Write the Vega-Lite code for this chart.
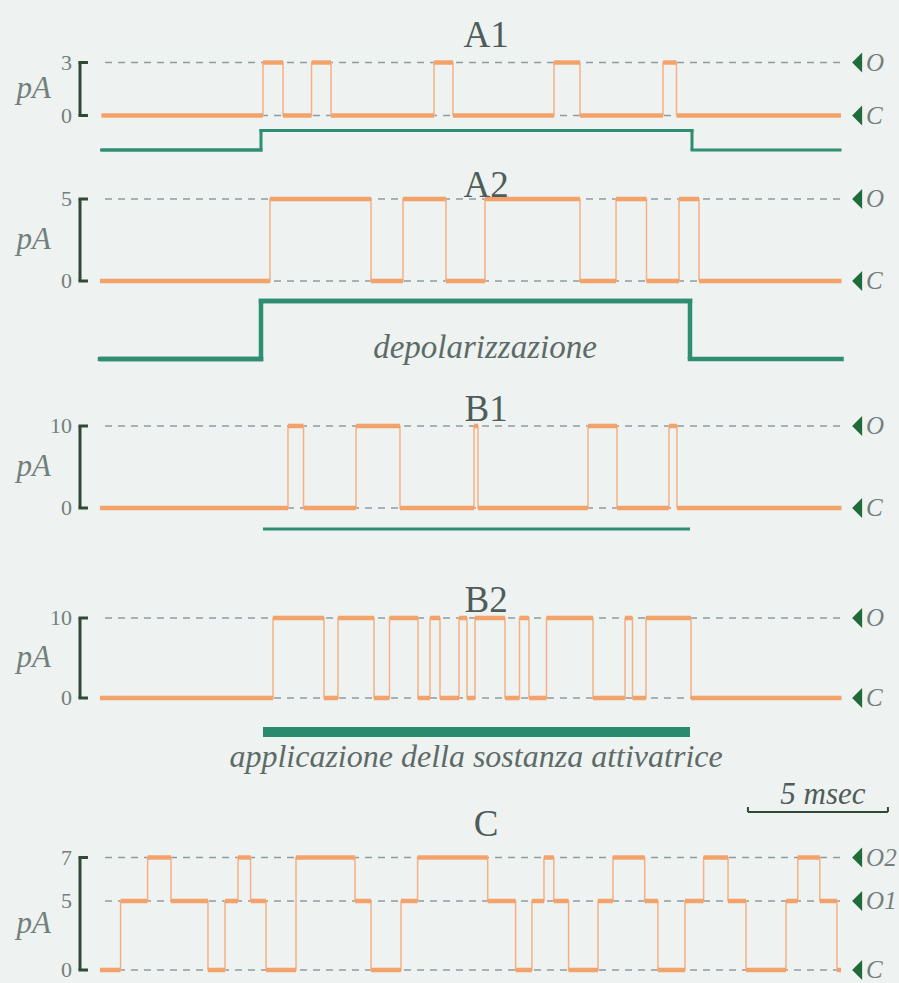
{
"$schema": "https://vega.github.io/schema/vega-lite/v6.json",
"width": 899, "height": 983,
"autosize": {"type": "none"},
"padding": 0,
"background": "#eef2f1",
"config": {"view": {"stroke": null}, "axis": {"disable": true}},
"datasets": {
"panels": [
{"panel": "A1", "title": "A1", "caption": ""},
{"panel": "A2", "title": "A2", "caption": "depolarizzazione"},
{"panel": "B1", "title": "B1", "caption": ""},
{"panel": "B2", "title": "B2", "caption": "applicazione della sostanza attivatrice"},
{"panel": "C", "title": "C", "caption": "5 msec"}
],
"levels": [
{"panel": "A1", "current": 3, "state": "O"}, {"panel": "A1", "current": 0, "state": "C"},
{"panel": "A2", "current": 5, "state": "O"}, {"panel": "A2", "current": 0, "state": "C"},
{"panel": "B1", "current": 10, "state": "O"}, {"panel": "B1", "current": 0, "state": "C"},
{"panel": "B2", "current": 10, "state": "O"}, {"panel": "B2", "current": 0, "state": "C"},
{"panel": "C", "current": 7, "state": "O2"}, {"panel": "C", "current": 5, "state": "O1"}, {"panel": "C", "current": 0, "state": "C"}
],
"stim": [
{"panel": "A1", "start": 0.054, "end": 5.75, "on": 0}, {"panel": "A1", "start": 5.75, "end": 21.143, "on": 1}, {"panel": "A1", "start": 21.143, "end": 26.429, "on": 0},
{"panel": "A2", "start": 0, "end": 5.75, "on": 0}, {"panel": "A2", "start": 5.75, "end": 21.071, "on": 1}, {"panel": "A2", "start": 21.071, "end": 26.482, "on": 0},
{"panel": "B1", "start": 5.821, "end": 21.071, "on": 1},
{"panel": "B2", "start": 5.821, "end": 21.071, "on": 1}
],
"trace": [
{"panel": "A1", "start": 0.054, "end": 5.821, "current": 0},
{"panel": "A1", "start": 5.821, "end": 6.536, "current": 3},
{"panel": "A1", "start": 6.536, "end": 7.554, "current": 0},
{"panel": "A1", "start": 7.554, "end": 8.25, "current": 3},
{"panel": "A1", "start": 8.25, "end": 11.929, "current": 0},
{"panel": "A1", "start": 11.929, "end": 12.607, "current": 3},
{"panel": "A1", "start": 12.607, "end": 16.214, "current": 0},
{"panel": "A1", "start": 16.214, "end": 17.143, "current": 3},
{"panel": "A1", "start": 17.143, "end": 20.107, "current": 0},
{"panel": "A1", "start": 20.107, "end": 20.589, "current": 3},
{"panel": "A1", "start": 20.589, "end": 26.464, "current": 0},
{"panel": "A2", "start": 0, "end": 6.071, "current": 0},
{"panel": "A2", "start": 6.071, "end": 9.679, "current": 5},
{"panel": "A2", "start": 9.679, "end": 10.821, "current": 0},
{"panel": "A2", "start": 10.821, "end": 12.357, "current": 5},
{"panel": "A2", "start": 12.357, "end": 13.75, "current": 0},
{"panel": "A2", "start": 13.75, "end": 17.143, "current": 5},
{"panel": "A2", "start": 17.143, "end": 18.429, "current": 0},
{"panel": "A2", "start": 18.429, "end": 19.518, "current": 5},
{"panel": "A2", "start": 19.518, "end": 20.679, "current": 0},
{"panel": "A2", "start": 20.679, "end": 21.393, "current": 5},
{"panel": "A2", "start": 21.393, "end": 26.482, "current": 0},
{"panel": "B1", "start": 0, "end": 6.714, "current": 0},
{"panel": "B1", "start": 6.714, "end": 7.268, "current": 10},
{"panel": "B1", "start": 7.268, "end": 9.143, "current": 0},
{"panel": "B1", "start": 9.143, "end": 10.714, "current": 10},
{"panel": "B1", "start": 10.714, "end": 13.357, "current": 0},
{"panel": "B1", "start": 13.357, "end": 13.5, "current": 10},
{"panel": "B1", "start": 13.5, "end": 17.429, "current": 0},
{"panel": "B1", "start": 17.429, "end": 18.464, "current": 10},
{"panel": "B1", "start": 18.464, "end": 20.321, "current": 0},
{"panel": "B1", "start": 20.321, "end": 20.607, "current": 10},
{"panel": "B1", "start": 20.607, "end": 26.482, "current": 0},
{"panel": "B2", "start": 0, "end": 6.179, "current": 0},
{"panel": "B2", "start": 6.179, "end": 8.0, "current": 10},
{"panel": "B2", "start": 8.0, "end": 8.5, "current": 0},
{"panel": "B2", "start": 8.5, "end": 9.786, "current": 10},
{"panel": "B2", "start": 9.786, "end": 10.339, "current": 0},
{"panel": "B2", "start": 10.339, "end": 11.357, "current": 10},
{"panel": "B2", "start": 11.357, "end": 11.786, "current": 0},
{"panel": "B2", "start": 11.786, "end": 12.143, "current": 10},
{"panel": "B2", "start": 12.143, "end": 12.821, "current": 0},
{"panel": "B2", "start": 12.821, "end": 13.107, "current": 10},
{"panel": "B2", "start": 13.107, "end": 13.393, "current": 0},
{"panel": "B2", "start": 13.393, "end": 14.464, "current": 10},
{"panel": "B2", "start": 14.464, "end": 14.982, "current": 0},
{"panel": "B2", "start": 14.982, "end": 15.321, "current": 10},
{"panel": "B2", "start": 15.321, "end": 15.946, "current": 0},
{"panel": "B2", "start": 15.946, "end": 17.607, "current": 10},
{"panel": "B2", "start": 17.607, "end": 18.75, "current": 0},
{"panel": "B2", "start": 18.75, "end": 19.018, "current": 10},
{"panel": "B2", "start": 19.018, "end": 19.5, "current": 0},
{"panel": "B2", "start": 19.5, "end": 21.107, "current": 10},
{"panel": "B2", "start": 21.107, "end": 26.482, "current": 0},
{"panel": "C", "start": 0, "end": 0.736, "current": 0},
{"panel": "C", "start": 0.736, "end": 1.7, "current": 5},
{"panel": "C", "start": 1.7, "end": 2.536, "current": 7},
{"panel": "C", "start": 2.536, "end": 3.857, "current": 5},
{"panel": "C", "start": 3.857, "end": 4.464, "current": 0},
{"panel": "C", "start": 4.464, "end": 4.929, "current": 5},
{"panel": "C", "start": 4.929, "end": 5.379, "current": 7},
{"panel": "C", "start": 5.379, "end": 5.929, "current": 5},
{"panel": "C", "start": 5.929, "end": 7.0, "current": 0},
{"panel": "C", "start": 7.0, "end": 9.107, "current": 7},
{"panel": "C", "start": 9.107, "end": 9.679, "current": 5},
{"panel": "C", "start": 9.679, "end": 10.75, "current": 0},
{"panel": "C", "start": 10.75, "end": 11.343, "current": 5},
{"panel": "C", "start": 11.343, "end": 13.846, "current": 7},
{"panel": "C", "start": 13.846, "end": 14.843, "current": 5},
{"panel": "C", "start": 14.843, "end": 15.425, "current": 0},
{"panel": "C", "start": 15.425, "end": 15.857, "current": 5},
{"panel": "C", "start": 15.857, "end": 16.207, "current": 7},
{"panel": "C", "start": 16.207, "end": 16.736, "current": 5},
{"panel": "C", "start": 16.736, "end": 17.786, "current": 0},
{"panel": "C", "start": 17.786, "end": 18.321, "current": 5},
{"panel": "C", "start": 18.321, "end": 19.454, "current": 7},
{"panel": "C", "start": 19.454, "end": 19.925, "current": 5},
{"panel": "C", "start": 19.925, "end": 20.893, "current": 0},
{"panel": "C", "start": 20.893, "end": 21.557, "current": 5},
{"panel": "C", "start": 21.557, "end": 22.429, "current": 7},
{"panel": "C", "start": 22.429, "end": 23.071, "current": 5},
{"panel": "C", "start": 23.071, "end": 24.5, "current": 0},
{"panel": "C", "start": 24.5, "end": 24.921, "current": 5},
{"panel": "C", "start": 24.921, "end": 25.707, "current": 7},
{"panel": "C", "start": 25.707, "end": 26.321, "current": 5},
{"panel": "C", "start": 26.321, "end": 26.464, "current": 0}
]
},
"resolve": {"scale": {"y": "independent"}},
"layer": [
{"layer": [
{"data": {"name": "levels"}, "transform": [{"filter": "datum.panel === 'A1'"}], "mark": {"type": "rule", "color": "#8d9ca1", "strokeWidth": 1.5, "strokeDash": [7, 6]}, "encoding": {"x": {"datum": 0.18, "type": "quantitative", "scale": {"domain": [-3.5714, 28.5357], "nice": false, "zero": false}}, "x2": {"datum": 26.5}, "y": {"field": "current", "type": "quantitative", "scale": {"domain": [0, 3], "range": [115.5, 62.5], "nice": false, "zero": false}}}},
{"data": {"name": "trace"}, "transform": [{"filter": "datum.panel === 'A1'"}], "mark": {"type": "line", "interpolate": "step-after", "color": "#f5b185", "strokeWidth": 1.5}, "encoding": {"x": {"field": "start", "type": "quantitative", "scale": {"domain": [-3.5714, 28.5357], "nice": false, "zero": false}}, "y": {"field": "current", "type": "quantitative", "scale": {"domain": [0, 3], "range": [115.5, 62.5], "nice": false, "zero": false}}}},
{"data": {"name": "trace"}, "transform": [{"filter": "datum.panel === 'A1'"}], "mark": {"type": "rule", "color": "#f3a36a", "strokeWidth": 4.5}, "encoding": {"x": {"field": "start", "type": "quantitative", "scale": {"domain": [-3.5714, 28.5357], "nice": false, "zero": false}}, "x2": {"field": "end"}, "y": {"field": "current", "type": "quantitative", "scale": {"domain": [0, 3], "range": [115.5, 62.5], "nice": false, "zero": false}}}},
{"data": {"name": "levels"}, "transform": [{"filter": "datum.panel === 'A1'"}], "mark": {"type": "rule", "color": "#2e4a37", "strokeWidth": 3}, "encoding": {"x": {"datum": -0.714, "type": "quantitative", "scale": {"domain": [-3.5714, 28.5357], "nice": false, "zero": false}}, "y": {"aggregate": "min", "field": "current", "type": "quantitative", "scale": {"domain": [0, 3], "range": [115.5, 62.5], "nice": false, "zero": false}}, "y2": {"aggregate": "max", "field": "current"}}},
{"data": {"name": "levels"}, "transform": [{"filter": "datum.panel === 'A1' && datum.state !== 'O1'"}], "mark": {"type": "rule", "color": "#2e4a37", "strokeWidth": 3}, "encoding": {"x": {"datum": -0.768, "type": "quantitative", "scale": {"domain": [-3.5714, 28.5357], "nice": false, "zero": false}}, "x2": {"datum": -0.43}, "y": {"field": "current", "type": "quantitative", "scale": {"domain": [0, 3], "range": [115.5, 62.5], "nice": false, "zero": false}}}},
{"data": {"name": "levels"}, "transform": [{"filter": "datum.panel === 'A1'"}], "mark": {"type": "text", "align": "right", "baseline": "middle", "font": "Liberation Serif, Times New Roman, serif", "fontSize": 22, "color": "#737f7c"}, "encoding": {"x": {"datum": -1.0, "type": "quantitative", "scale": {"domain": [-3.5714, 28.5357], "nice": false, "zero": false}}, "y": {"field": "current", "type": "quantitative", "scale": {"domain": [0, 3], "range": [115.5, 62.5], "nice": false, "zero": false}}, "text": {"field": "current", "type": "quantitative"}}},
{"data": {"name": "levels"}, "transform": [{"filter": "datum.panel === 'A1'"}], "mark": {"type": "point", "shape": "M0.5,-1L-0.5,0L0.5,1Z", "filled": true, "size": 400, "color": "#1f6b39", "opacity": 1}, "encoding": {"x": {"datum": 27.04, "type": "quantitative", "scale": {"domain": [-3.5714, 28.5357], "nice": false, "zero": false}}, "y": {"field": "current", "type": "quantitative", "scale": {"domain": [0, 3], "range": [115.5, 62.5], "nice": false, "zero": false}}}},
{"data": {"name": "levels"}, "transform": [{"filter": "datum.panel === 'A1'"}], "mark": {"type": "text", "align": "left", "baseline": "middle", "font": "Liberation Serif, Times New Roman, serif", "fontStyle": "italic", "fontSize": 25, "color": "#737f7c"}, "encoding": {"x": {"datum": 27.36, "type": "quantitative", "scale": {"domain": [-3.5714, 28.5357], "nice": false, "zero": false}}, "y": {"field": "current", "type": "quantitative", "scale": {"domain": [0, 3], "range": [115.5, 62.5], "nice": false, "zero": false}}, "text": {"field": "state"}}},
{"data": {"name": "panels"}, "transform": [{"filter": "datum.panel === 'A1'"}], "mark": {"type": "text", "align": "center", "baseline": "middle", "font": "Liberation Serif, Times New Roman, serif", "fontSize": 37, "color": "#4f5c59"}, "encoding": {"x": {"datum": 13.79, "type": "quantitative", "scale": {"domain": [-3.5714, 28.5357], "nice": false, "zero": false}}, "y": {"datum": 4.5, "type": "quantitative", "scale": {"domain": [0, 3], "range": [115.5, 62.5], "nice": false, "zero": false}}, "text": {"field": "title"}}},
{"data": {"name": "panels"}, "transform": [{"filter": "datum.panel === 'A1'"}], "mark": {"type": "text", "align": "right", "baseline": "middle", "font": "Liberation Serif, Times New Roman, serif", "fontStyle": "italic", "fontSize": 31, "color": "#737f7c"}, "encoding": {"x": {"datum": -1.75, "type": "quantitative", "scale": {"domain": [-3.5714, 28.5357], "nice": false, "zero": false}}, "y": {"datum": 1.5, "type": "quantitative", "scale": {"domain": [0, 3], "range": [115.5, 62.5], "nice": false, "zero": false}}, "text": {"value": "pA"}}}
]},
{"layer": [
{"data": {"name": "stim"}, "transform": [{"filter": "datum.panel === 'A1'"}], "mark": {"type": "line", "interpolate": "step-after", "color": "#2f8e72", "strokeWidth": 3}, "encoding": {"x": {"field": "start", "type": "quantitative", "scale": {"domain": [-3.5714, 28.5357], "nice": false, "zero": false}}, "y": {"field": "on", "type": "quantitative", "scale": {"domain": [0, 1], "range": [150, 130.5], "nice": false, "zero": false}}}},
{"data": {"name": "stim"}, "transform": [{"filter": "datum.panel === 'A1'"}], "mark": {"type": "rule", "color": "#2f8e72", "strokeWidth": 3, "strokeCap": "square"}, "encoding": {"x": {"field": "start", "type": "quantitative", "scale": {"domain": [-3.5714, 28.5357], "nice": false, "zero": false}}, "x2": {"field": "end"}, "y": {"field": "on", "type": "quantitative", "scale": {"domain": [0, 1], "range": [150, 130.5], "nice": false, "zero": false}}}}
]},
{"layer": [
{"data": {"name": "levels"}, "transform": [{"filter": "datum.panel === 'A2'"}], "mark": {"type": "rule", "color": "#8d9ca1", "strokeWidth": 1.5, "strokeDash": [7, 6]}, "encoding": {"x": {"datum": 0.18, "type": "quantitative", "scale": {"domain": [-3.5714, 28.5357], "nice": false, "zero": false}}, "x2": {"datum": 26.5}, "y": {"field": "current", "type": "quantitative", "scale": {"domain": [0, 5], "range": [281, 199], "nice": false, "zero": false}}}},
{"data": {"name": "trace"}, "transform": [{"filter": "datum.panel === 'A2'"}], "mark": {"type": "line", "interpolate": "step-after", "color": "#f5b185", "strokeWidth": 1.5}, "encoding": {"x": {"field": "start", "type": "quantitative", "scale": {"domain": [-3.5714, 28.5357], "nice": false, "zero": false}}, "y": {"field": "current", "type": "quantitative", "scale": {"domain": [0, 5], "range": [281, 199], "nice": false, "zero": false}}}},
{"data": {"name": "trace"}, "transform": [{"filter": "datum.panel === 'A2'"}], "mark": {"type": "rule", "color": "#f3a36a", "strokeWidth": 4.5}, "encoding": {"x": {"field": "start", "type": "quantitative", "scale": {"domain": [-3.5714, 28.5357], "nice": false, "zero": false}}, "x2": {"field": "end"}, "y": {"field": "current", "type": "quantitative", "scale": {"domain": [0, 5], "range": [281, 199], "nice": false, "zero": false}}}},
{"data": {"name": "levels"}, "transform": [{"filter": "datum.panel === 'A2'"}], "mark": {"type": "rule", "color": "#2e4a37", "strokeWidth": 3}, "encoding": {"x": {"datum": -0.714, "type": "quantitative", "scale": {"domain": [-3.5714, 28.5357], "nice": false, "zero": false}}, "y": {"aggregate": "min", "field": "current", "type": "quantitative", "scale": {"domain": [0, 5], "range": [281, 199], "nice": false, "zero": false}}, "y2": {"aggregate": "max", "field": "current"}}},
{"data": {"name": "levels"}, "transform": [{"filter": "datum.panel === 'A2' && datum.state !== 'O1'"}], "mark": {"type": "rule", "color": "#2e4a37", "strokeWidth": 3}, "encoding": {"x": {"datum": -0.768, "type": "quantitative", "scale": {"domain": [-3.5714, 28.5357], "nice": false, "zero": false}}, "x2": {"datum": -0.43}, "y": {"field": "current", "type": "quantitative", "scale": {"domain": [0, 5], "range": [281, 199], "nice": false, "zero": false}}}},
{"data": {"name": "levels"}, "transform": [{"filter": "datum.panel === 'A2'"}], "mark": {"type": "text", "align": "right", "baseline": "middle", "font": "Liberation Serif, Times New Roman, serif", "fontSize": 22, "color": "#737f7c"}, "encoding": {"x": {"datum": -1.0, "type": "quantitative", "scale": {"domain": [-3.5714, 28.5357], "nice": false, "zero": false}}, "y": {"field": "current", "type": "quantitative", "scale": {"domain": [0, 5], "range": [281, 199], "nice": false, "zero": false}}, "text": {"field": "current", "type": "quantitative"}}},
{"data": {"name": "levels"}, "transform": [{"filter": "datum.panel === 'A2'"}], "mark": {"type": "point", "shape": "M0.5,-1L-0.5,0L0.5,1Z", "filled": true, "size": 400, "color": "#1f6b39", "opacity": 1}, "encoding": {"x": {"datum": 27.04, "type": "quantitative", "scale": {"domain": [-3.5714, 28.5357], "nice": false, "zero": false}}, "y": {"field": "current", "type": "quantitative", "scale": {"domain": [0, 5], "range": [281, 199], "nice": false, "zero": false}}}},
{"data": {"name": "levels"}, "transform": [{"filter": "datum.panel === 'A2'"}], "mark": {"type": "text", "align": "left", "baseline": "middle", "font": "Liberation Serif, Times New Roman, serif", "fontStyle": "italic", "fontSize": 25, "color": "#737f7c"}, "encoding": {"x": {"datum": 27.36, "type": "quantitative", "scale": {"domain": [-3.5714, 28.5357], "nice": false, "zero": false}}, "y": {"field": "current", "type": "quantitative", "scale": {"domain": [0, 5], "range": [281, 199], "nice": false, "zero": false}}, "text": {"field": "state"}}},
{"data": {"name": "panels"}, "transform": [{"filter": "datum.panel === 'A2'"}], "mark": {"type": "text", "align": "center", "baseline": "middle", "font": "Liberation Serif, Times New Roman, serif", "fontSize": 37, "color": "#4f5c59"}, "encoding": {"x": {"datum": 13.79, "type": "quantitative", "scale": {"domain": [-3.5714, 28.5357], "nice": false, "zero": false}}, "y": {"datum": 5.82, "type": "quantitative", "scale": {"domain": [0, 5], "range": [281, 199], "nice": false, "zero": false}}, "text": {"field": "title"}}},
{"data": {"name": "panels"}, "transform": [{"filter": "datum.panel === 'A2'"}], "mark": {"type": "text", "align": "right", "baseline": "middle", "font": "Liberation Serif, Times New Roman, serif", "fontStyle": "italic", "fontSize": 31, "color": "#737f7c"}, "encoding": {"x": {"datum": -1.75, "type": "quantitative", "scale": {"domain": [-3.5714, 28.5357], "nice": false, "zero": false}}, "y": {"datum": 2.5, "type": "quantitative", "scale": {"domain": [0, 5], "range": [281, 199], "nice": false, "zero": false}}, "text": {"value": "pA"}}}
]},
{"layer": [
{"data": {"name": "stim"}, "transform": [{"filter": "datum.panel === 'A2'"}], "mark": {"type": "line", "interpolate": "step-after", "color": "#2f8e72", "strokeWidth": 4.5}, "encoding": {"x": {"field": "start", "type": "quantitative", "scale": {"domain": [-3.5714, 28.5357], "nice": false, "zero": false}}, "y": {"field": "on", "type": "quantitative", "scale": {"domain": [0, 1], "range": [359, 301], "nice": false, "zero": false}}}},
{"data": {"name": "stim"}, "transform": [{"filter": "datum.panel === 'A2'"}], "mark": {"type": "rule", "color": "#2f8e72", "strokeWidth": 4.5, "strokeCap": "square"}, "encoding": {"x": {"field": "start", "type": "quantitative", "scale": {"domain": [-3.5714, 28.5357], "nice": false, "zero": false}}, "x2": {"field": "end"}, "y": {"field": "on", "type": "quantitative", "scale": {"domain": [0, 1], "range": [359, 301], "nice": false, "zero": false}}}},
{"data": {"name": "panels"}, "transform": [{"filter": "datum.panel === 'A2'"}], "mark": {"type": "text", "align": "center", "baseline": "middle", "font": "Liberation Serif, Times New Roman, serif", "fontStyle": "italic", "fontSize": 33, "color": "#5d6b67"}, "encoding": {"x": {"datum": 13.75, "type": "quantitative", "scale": {"domain": [-3.5714, 28.5357], "nice": false, "zero": false}}, "y": {"datum": 0.19, "type": "quantitative", "scale": {"domain": [0, 1], "range": [359, 301], "nice": false, "zero": false}}, "text": {"field": "caption"}}}
]},
{"layer": [
{"data": {"name": "levels"}, "transform": [{"filter": "datum.panel === 'B1'"}], "mark": {"type": "rule", "color": "#8d9ca1", "strokeWidth": 1.5, "strokeDash": [7, 6]}, "encoding": {"x": {"datum": 0.18, "type": "quantitative", "scale": {"domain": [-3.5714, 28.5357], "nice": false, "zero": false}}, "x2": {"datum": 26.5}, "y": {"field": "current", "type": "quantitative", "scale": {"domain": [0, 10], "range": [508, 426], "nice": false, "zero": false}}}},
{"data": {"name": "trace"}, "transform": [{"filter": "datum.panel === 'B1'"}], "mark": {"type": "line", "interpolate": "step-after", "color": "#f5b185", "strokeWidth": 1.5}, "encoding": {"x": {"field": "start", "type": "quantitative", "scale": {"domain": [-3.5714, 28.5357], "nice": false, "zero": false}}, "y": {"field": "current", "type": "quantitative", "scale": {"domain": [0, 10], "range": [508, 426], "nice": false, "zero": false}}}},
{"data": {"name": "trace"}, "transform": [{"filter": "datum.panel === 'B1'"}], "mark": {"type": "rule", "color": "#f3a36a", "strokeWidth": 4.5}, "encoding": {"x": {"field": "start", "type": "quantitative", "scale": {"domain": [-3.5714, 28.5357], "nice": false, "zero": false}}, "x2": {"field": "end"}, "y": {"field": "current", "type": "quantitative", "scale": {"domain": [0, 10], "range": [508, 426], "nice": false, "zero": false}}}},
{"data": {"name": "levels"}, "transform": [{"filter": "datum.panel === 'B1'"}], "mark": {"type": "rule", "color": "#2e4a37", "strokeWidth": 3}, "encoding": {"x": {"datum": -0.714, "type": "quantitative", "scale": {"domain": [-3.5714, 28.5357], "nice": false, "zero": false}}, "y": {"aggregate": "min", "field": "current", "type": "quantitative", "scale": {"domain": [0, 10], "range": [508, 426], "nice": false, "zero": false}}, "y2": {"aggregate": "max", "field": "current"}}},
{"data": {"name": "levels"}, "transform": [{"filter": "datum.panel === 'B1' && datum.state !== 'O1'"}], "mark": {"type": "rule", "color": "#2e4a37", "strokeWidth": 3}, "encoding": {"x": {"datum": -0.768, "type": "quantitative", "scale": {"domain": [-3.5714, 28.5357], "nice": false, "zero": false}}, "x2": {"datum": -0.43}, "y": {"field": "current", "type": "quantitative", "scale": {"domain": [0, 10], "range": [508, 426], "nice": false, "zero": false}}}},
{"data": {"name": "levels"}, "transform": [{"filter": "datum.panel === 'B1'"}], "mark": {"type": "text", "align": "right", "baseline": "middle", "font": "Liberation Serif, Times New Roman, serif", "fontSize": 22, "color": "#737f7c"}, "encoding": {"x": {"datum": -1.0, "type": "quantitative", "scale": {"domain": [-3.5714, 28.5357], "nice": false, "zero": false}}, "y": {"field": "current", "type": "quantitative", "scale": {"domain": [0, 10], "range": [508, 426], "nice": false, "zero": false}}, "text": {"field": "current", "type": "quantitative"}}},
{"data": {"name": "levels"}, "transform": [{"filter": "datum.panel === 'B1'"}], "mark": {"type": "point", "shape": "M0.5,-1L-0.5,0L0.5,1Z", "filled": true, "size": 400, "color": "#1f6b39", "opacity": 1}, "encoding": {"x": {"datum": 27.04, "type": "quantitative", "scale": {"domain": [-3.5714, 28.5357], "nice": false, "zero": false}}, "y": {"field": "current", "type": "quantitative", "scale": {"domain": [0, 10], "range": [508, 426], "nice": false, "zero": false}}}},
{"data": {"name": "levels"}, "transform": [{"filter": "datum.panel === 'B1'"}], "mark": {"type": "text", "align": "left", "baseline": "middle", "font": "Liberation Serif, Times New Roman, serif", "fontStyle": "italic", "fontSize": 25, "color": "#737f7c"}, "encoding": {"x": {"datum": 27.36, "type": "quantitative", "scale": {"domain": [-3.5714, 28.5357], "nice": false, "zero": false}}, "y": {"field": "current", "type": "quantitative", "scale": {"domain": [0, 10], "range": [508, 426], "nice": false, "zero": false}}, "text": {"field": "state"}}},
{"data": {"name": "panels"}, "transform": [{"filter": "datum.panel === 'B1'"}], "mark": {"type": "text", "align": "center", "baseline": "middle", "font": "Liberation Serif, Times New Roman, serif", "fontSize": 37, "color": "#4f5c59"}, "encoding": {"x": {"datum": 13.79, "type": "quantitative", "scale": {"domain": [-3.5714, 28.5357], "nice": false, "zero": false}}, "y": {"datum": 11.95, "type": "quantitative", "scale": {"domain": [0, 10], "range": [508, 426], "nice": false, "zero": false}}, "text": {"field": "title"}}},
{"data": {"name": "panels"}, "transform": [{"filter": "datum.panel === 'B1'"}], "mark": {"type": "text", "align": "right", "baseline": "middle", "font": "Liberation Serif, Times New Roman, serif", "fontStyle": "italic", "fontSize": 31, "color": "#737f7c"}, "encoding": {"x": {"datum": -1.75, "type": "quantitative", "scale": {"domain": [-3.5714, 28.5357], "nice": false, "zero": false}}, "y": {"datum": 5, "type": "quantitative", "scale": {"domain": [0, 10], "range": [508, 426], "nice": false, "zero": false}}, "text": {"value": "pA"}}}
]},
{"layer": [
{"data": {"name": "stim"}, "transform": [{"filter": "datum.panel === 'B1'"}], "mark": {"type": "rule", "color": "#2f8e72", "strokeWidth": 3}, "encoding": {"x": {"field": "start", "type": "quantitative", "scale": {"domain": [-3.5714, 28.5357], "nice": false, "zero": false}}, "x2": {"field": "end"}, "y": {"field": "on", "type": "quantitative", "scale": {"domain": [0, 1], "range": [549, 529], "nice": false, "zero": false}}}}
]},
{"layer": [
{"data": {"name": "levels"}, "transform": [{"filter": "datum.panel === 'B2'"}], "mark": {"type": "rule", "color": "#8d9ca1", "strokeWidth": 1.5, "strokeDash": [7, 6]}, "encoding": {"x": {"datum": 0.18, "type": "quantitative", "scale": {"domain": [-3.5714, 28.5357], "nice": false, "zero": false}}, "x2": {"datum": 26.5}, "y": {"field": "current", "type": "quantitative", "scale": {"domain": [0, 10], "range": [698, 618], "nice": false, "zero": false}}}},
{"data": {"name": "trace"}, "transform": [{"filter": "datum.panel === 'B2'"}], "mark": {"type": "line", "interpolate": "step-after", "color": "#f5b185", "strokeWidth": 1.5}, "encoding": {"x": {"field": "start", "type": "quantitative", "scale": {"domain": [-3.5714, 28.5357], "nice": false, "zero": false}}, "y": {"field": "current", "type": "quantitative", "scale": {"domain": [0, 10], "range": [698, 618], "nice": false, "zero": false}}}},
{"data": {"name": "trace"}, "transform": [{"filter": "datum.panel === 'B2'"}], "mark": {"type": "rule", "color": "#f3a36a", "strokeWidth": 4.5}, "encoding": {"x": {"field": "start", "type": "quantitative", "scale": {"domain": [-3.5714, 28.5357], "nice": false, "zero": false}}, "x2": {"field": "end"}, "y": {"field": "current", "type": "quantitative", "scale": {"domain": [0, 10], "range": [698, 618], "nice": false, "zero": false}}}},
{"data": {"name": "levels"}, "transform": [{"filter": "datum.panel === 'B2'"}], "mark": {"type": "rule", "color": "#2e4a37", "strokeWidth": 3}, "encoding": {"x": {"datum": -0.714, "type": "quantitative", "scale": {"domain": [-3.5714, 28.5357], "nice": false, "zero": false}}, "y": {"aggregate": "min", "field": "current", "type": "quantitative", "scale": {"domain": [0, 10], "range": [698, 618], "nice": false, "zero": false}}, "y2": {"aggregate": "max", "field": "current"}}},
{"data": {"name": "levels"}, "transform": [{"filter": "datum.panel === 'B2' && datum.state !== 'O1'"}], "mark": {"type": "rule", "color": "#2e4a37", "strokeWidth": 3}, "encoding": {"x": {"datum": -0.768, "type": "quantitative", "scale": {"domain": [-3.5714, 28.5357], "nice": false, "zero": false}}, "x2": {"datum": -0.43}, "y": {"field": "current", "type": "quantitative", "scale": {"domain": [0, 10], "range": [698, 618], "nice": false, "zero": false}}}},
{"data": {"name": "levels"}, "transform": [{"filter": "datum.panel === 'B2'"}], "mark": {"type": "text", "align": "right", "baseline": "middle", "font": "Liberation Serif, Times New Roman, serif", "fontSize": 22, "color": "#737f7c"}, "encoding": {"x": {"datum": -1.0, "type": "quantitative", "scale": {"domain": [-3.5714, 28.5357], "nice": false, "zero": false}}, "y": {"field": "current", "type": "quantitative", "scale": {"domain": [0, 10], "range": [698, 618], "nice": false, "zero": false}}, "text": {"field": "current", "type": "quantitative"}}},
{"data": {"name": "levels"}, "transform": [{"filter": "datum.panel === 'B2'"}], "mark": {"type": "point", "shape": "M0.5,-1L-0.5,0L0.5,1Z", "filled": true, "size": 400, "color": "#1f6b39", "opacity": 1}, "encoding": {"x": {"datum": 27.04, "type": "quantitative", "scale": {"domain": [-3.5714, 28.5357], "nice": false, "zero": false}}, "y": {"field": "current", "type": "quantitative", "scale": {"domain": [0, 10], "range": [698, 618], "nice": false, "zero": false}}}},
{"data": {"name": "levels"}, "transform": [{"filter": "datum.panel === 'B2'"}], "mark": {"type": "text", "align": "left", "baseline": "middle", "font": "Liberation Serif, Times New Roman, serif", "fontStyle": "italic", "fontSize": 25, "color": "#737f7c"}, "encoding": {"x": {"datum": 27.36, "type": "quantitative", "scale": {"domain": [-3.5714, 28.5357], "nice": false, "zero": false}}, "y": {"field": "current", "type": "quantitative", "scale": {"domain": [0, 10], "range": [698, 618], "nice": false, "zero": false}}, "text": {"field": "state"}}},
{"data": {"name": "panels"}, "transform": [{"filter": "datum.panel === 'B2'"}], "mark": {"type": "text", "align": "center", "baseline": "middle", "font": "Liberation Serif, Times New Roman, serif", "fontSize": 37, "color": "#4f5c59"}, "encoding": {"x": {"datum": 13.79, "type": "quantitative", "scale": {"domain": [-3.5714, 28.5357], "nice": false, "zero": false}}, "y": {"datum": 12.125, "type": "quantitative", "scale": {"domain": [0, 10], "range": [698, 618], "nice": false, "zero": false}}, "text": {"field": "title"}}},
{"data": {"name": "panels"}, "transform": [{"filter": "datum.panel === 'B2'"}], "mark": {"type": "text", "align": "right", "baseline": "middle", "font": "Liberation Serif, Times New Roman, serif", "fontStyle": "italic", "fontSize": 31, "color": "#737f7c"}, "encoding": {"x": {"datum": -1.75, "type": "quantitative", "scale": {"domain": [-3.5714, 28.5357], "nice": false, "zero": false}}, "y": {"datum": 5, "type": "quantitative", "scale": {"domain": [0, 10], "range": [698, 618], "nice": false, "zero": false}}, "text": {"value": "pA"}}}
]},
{"layer": [
{"data": {"name": "stim"}, "transform": [{"filter": "datum.panel === 'B2'"}], "mark": {"type": "rule", "color": "#2a8a6c", "strokeWidth": 10}, "encoding": {"x": {"field": "start", "type": "quantitative", "scale": {"domain": [-3.5714, 28.5357], "nice": false, "zero": false}}, "x2": {"field": "end"}, "y": {"field": "on", "type": "quantitative", "scale": {"domain": [0, 1], "range": [752, 732], "nice": false, "zero": false}}}},
{"data": {"name": "panels"}, "transform": [{"filter": "datum.panel === 'B2'"}], "mark": {"type": "text", "align": "center", "baseline": "middle", "font": "Liberation Serif, Times New Roman, serif", "fontStyle": "italic", "fontSize": 32, "color": "#5d6b67"}, "encoding": {"x": {"datum": 13.43, "type": "quantitative", "scale": {"domain": [-3.5714, 28.5357], "nice": false, "zero": false}}, "y": {"datum": -0.25, "type": "quantitative", "scale": {"domain": [0, 1], "range": [752, 732], "nice": false, "zero": false}}, "text": {"field": "caption"}}}
]},
{"layer": [
{"data": {"name": "levels"}, "transform": [{"filter": "datum.panel === 'C'"}], "mark": {"type": "rule", "color": "#8d9ca1", "strokeWidth": 1.5, "strokeDash": [7, 6]}, "encoding": {"x": {"datum": 0.18, "type": "quantitative", "scale": {"domain": [-3.5714, 28.5357], "nice": false, "zero": false}}, "x2": {"datum": 26.5}, "y": {"field": "current", "type": "quantitative", "scale": {"domain": [0, 5, 7], "range": [970, 901, 857.5], "nice": false, "zero": false}}}},
{"data": {"name": "trace"}, "transform": [{"filter": "datum.panel === 'C'"}], "mark": {"type": "line", "interpolate": "step-after", "color": "#f5b185", "strokeWidth": 1.5}, "encoding": {"x": {"field": "start", "type": "quantitative", "scale": {"domain": [-3.5714, 28.5357], "nice": false, "zero": false}}, "y": {"field": "current", "type": "quantitative", "scale": {"domain": [0, 5, 7], "range": [970, 901, 857.5], "nice": false, "zero": false}}}},
{"data": {"name": "trace"}, "transform": [{"filter": "datum.panel === 'C'"}], "mark": {"type": "rule", "color": "#f3a36a", "strokeWidth": 4.5}, "encoding": {"x": {"field": "start", "type": "quantitative", "scale": {"domain": [-3.5714, 28.5357], "nice": false, "zero": false}}, "x2": {"field": "end"}, "y": {"field": "current", "type": "quantitative", "scale": {"domain": [0, 5, 7], "range": [970, 901, 857.5], "nice": false, "zero": false}}}},
{"data": {"name": "levels"}, "transform": [{"filter": "datum.panel === 'C'"}], "mark": {"type": "rule", "color": "#2e4a37", "strokeWidth": 3}, "encoding": {"x": {"datum": -0.714, "type": "quantitative", "scale": {"domain": [-3.5714, 28.5357], "nice": false, "zero": false}}, "y": {"aggregate": "min", "field": "current", "type": "quantitative", "scale": {"domain": [0, 5, 7], "range": [970, 901, 857.5], "nice": false, "zero": false}}, "y2": {"aggregate": "max", "field": "current"}}},
{"data": {"name": "levels"}, "transform": [{"filter": "datum.panel === 'C' && datum.state !== 'O1'"}], "mark": {"type": "rule", "color": "#2e4a37", "strokeWidth": 3}, "encoding": {"x": {"datum": -0.768, "type": "quantitative", "scale": {"domain": [-3.5714, 28.5357], "nice": false, "zero": false}}, "x2": {"datum": -0.43}, "y": {"field": "current", "type": "quantitative", "scale": {"domain": [0, 5, 7], "range": [970, 901, 857.5], "nice": false, "zero": false}}}},
{"data": {"name": "levels"}, "transform": [{"filter": "datum.panel === 'C'"}], "mark": {"type": "text", "align": "right", "baseline": "middle", "font": "Liberation Serif, Times New Roman, serif", "fontSize": 22, "color": "#737f7c"}, "encoding": {"x": {"datum": -1.0, "type": "quantitative", "scale": {"domain": [-3.5714, 28.5357], "nice": false, "zero": false}}, "y": {"field": "current", "type": "quantitative", "scale": {"domain": [0, 5, 7], "range": [970, 901, 857.5], "nice": false, "zero": false}}, "text": {"field": "current", "type": "quantitative"}}},
{"data": {"name": "levels"}, "transform": [{"filter": "datum.panel === 'C'"}], "mark": {"type": "point", "shape": "M0.5,-1L-0.5,0L0.5,1Z", "filled": true, "size": 400, "color": "#1f6b39", "opacity": 1}, "encoding": {"x": {"datum": 27.04, "type": "quantitative", "scale": {"domain": [-3.5714, 28.5357], "nice": false, "zero": false}}, "y": {"field": "current", "type": "quantitative", "scale": {"domain": [0, 5, 7], "range": [970, 901, 857.5], "nice": false, "zero": false}}}},
{"data": {"name": "levels"}, "transform": [{"filter": "datum.panel === 'C'"}], "mark": {"type": "text", "align": "left", "baseline": "middle", "font": "Liberation Serif, Times New Roman, serif", "fontStyle": "italic", "fontSize": 25, "color": "#737f7c"}, "encoding": {"x": {"datum": 27.36, "type": "quantitative", "scale": {"domain": [-3.5714, 28.5357], "nice": false, "zero": false}}, "y": {"field": "current", "type": "quantitative", "scale": {"domain": [0, 5, 7], "range": [970, 901, 857.5], "nice": false, "zero": false}}, "text": {"field": "state"}}},
{"data": {"name": "panels"}, "transform": [{"filter": "datum.panel === 'C'"}], "mark": {"type": "text", "align": "center", "baseline": "middle", "font": "Liberation Serif, Times New Roman, serif", "fontSize": 37, "color": "#4f5c59"}, "encoding": {"x": {"datum": 13.79, "type": "quantitative", "scale": {"domain": [-3.5714, 28.5357], "nice": false, "zero": false}}, "y": {"datum": 8.49, "type": "quantitative", "scale": {"domain": [0, 5, 7], "range": [970, 901, 857.5], "nice": false, "zero": false}}, "text": {"field": "title"}}},
{"data": {"name": "panels"}, "transform": [{"filter": "datum.panel === 'C'"}], "mark": {"type": "text", "align": "right", "baseline": "middle", "font": "Liberation Serif, Times New Roman, serif", "fontStyle": "italic", "fontSize": 31, "color": "#737f7c"}, "encoding": {"x": {"datum": -1.75, "type": "quantitative", "scale": {"domain": [-3.5714, 28.5357], "nice": false, "zero": false}}, "y": {"datum": 3.3, "type": "quantitative", "scale": {"domain": [0, 5, 7], "range": [970, 901, 857.5], "nice": false, "zero": false}}, "text": {"value": "pA"}}},
{"data": {"name": "panels"}, "transform": [{"filter": "datum.panel === 'C'"}], "mark": {"type": "rule", "color": "#2e4a37", "strokeWidth": 2}, "encoding": {"x": {"datum": 23.14, "type": "quantitative", "scale": {"domain": [-3.5714, 28.5357], "nice": false, "zero": false}}, "x2": {"datum": 28.14}, "y": {"datum": 9.09, "type": "quantitative", "scale": {"domain": [0, 5, 7], "range": [970, 901, 857.5], "nice": false, "zero": false}}}},
{"data": {"name": "panels"}, "transform": [{"filter": "datum.panel === 'C'"}], "mark": {"type": "rule", "color": "#2e4a37", "strokeWidth": 2}, "encoding": {"x": {"datum": 23.14, "type": "quantitative", "scale": {"domain": [-3.5714, 28.5357], "nice": false, "zero": false}}, "y": {"datum": 9.09, "type": "quantitative", "scale": {"domain": [0, 5, 7], "range": [970, 901, 857.5], "nice": false, "zero": false}}, "y2": {"datum": 9.32}}},
{"data": {"name": "panels"}, "transform": [{"filter": "datum.panel === 'C'"}], "mark": {"type": "rule", "color": "#2e4a37", "strokeWidth": 2}, "encoding": {"x": {"datum": 28.14, "type": "quantitative", "scale": {"domain": [-3.5714, 28.5357], "nice": false, "zero": false}}, "y": {"datum": 9.09, "type": "quantitative", "scale": {"domain": [0, 5, 7], "range": [970, 901, 857.5], "nice": false, "zero": false}}, "y2": {"datum": 9.32}}},
{"data": {"name": "panels"}, "transform": [{"filter": "datum.panel === 'C'"}], "mark": {"type": "text", "align": "center", "baseline": "middle", "font": "Liberation Serif, Times New Roman, serif", "fontStyle": "italic", "fontSize": 31, "color": "#4f5c59"}, "encoding": {"x": {"datum": 25.82, "type": "quantitative", "scale": {"domain": [-3.5714, 28.5357], "nice": false, "zero": false}}, "y": {"datum": 9.87, "type": "quantitative", "scale": {"domain": [0, 5, 7], "range": [970, 901, 857.5], "nice": false, "zero": false}}, "text": {"field": "caption"}}}
]}
]
}
